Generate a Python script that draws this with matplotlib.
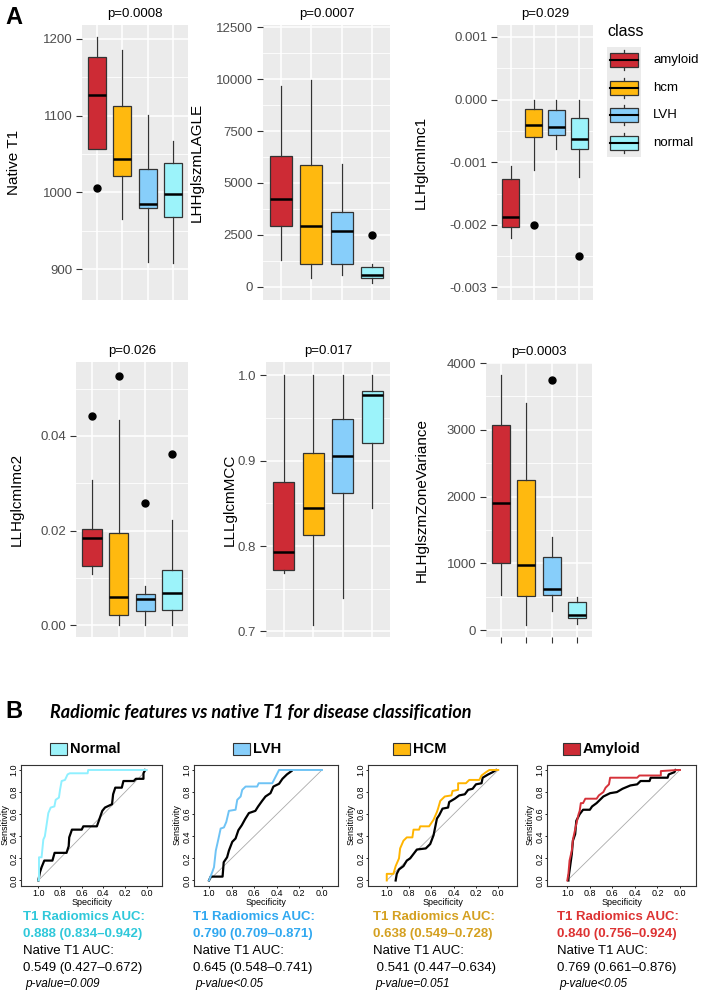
import matplotlib
matplotlib.use("Agg")
import matplotlib.pyplot as plt
from matplotlib.patches import Rectangle
import numpy as np

plt.rcParams['font.family'] = ['Liberation Sans', 'DejaVu Sans']

W, H = 704, 992
fig = plt.figure(figsize=(W / 100, H / 100), dpi=100)

def px_axes(x0, y0, x1, y1, **kw):
    return fig.add_axes([x0 / W, 1 - y1 / H, (x1 - x0) / W, (y1 - y0) / H], **kw)

# ---------------- data: panel A ----------------
classes = ["amyloid", "hcm", "LVH", "normal"]
class_colors = ["#CD2B35", "#FFB90F", "#87CEFA", "#9CF3FA"]

native_t1_low = [1057, 966, 910, 908]
native_t1_q1 = [1057, 1021, 980, 968]
native_t1_med = [1127, 1044, 985, 998]
native_t1_q3 = [1176, 1112, 1031, 1038]
native_t1_high = [1203, 1185, 1101, 1067]
native_t1_out = [[1006], [], [], []]

lagle_low = [1262, 434, 547, 193]
lagle_q1 = [2934, 1085, 1085, 434]
lagle_med = [4228, 2934, 2661, 547]
lagle_q3 = [6286, 5884, 3585, 965]
lagle_high = [9680, 9970, 5916, 1085]
lagle_out = [[], [], [], [2500]]

imc1_low = [-0.00221, -0.00113, -0.00079, -0.00124]
imc1_q1 = [-0.00204, -0.00059, -0.00057, -0.00079]
imc1_med = [-0.00187, -0.00041, -0.00044, -0.00063]
imc1_q3 = [-0.00127, -0.000154, -0.00017, -0.00029]
imc1_high = [-0.00106, 0.0, 0.0, 0.0]
imc1_out = [[], [-0.0020], [], [-0.00249]]

imc2_low = [0.0108, 0.0, 0.0, 0.0]
imc2_q1 = [0.0126, 0.0022, 0.0029, 0.0032]
imc2_med = [0.0185, 0.0060, 0.0055, 0.0067]
imc2_q3 = [0.0203, 0.0194, 0.0065, 0.0116]
imc2_high = [0.0306, 0.0434, 0.0083, 0.0222]
imc2_out = [[0.0441], [0.0526], [0.0258], [0.0361]]

mcc_low = [0.768, 0.708, 0.739, 0.844]
mcc_q1 = [0.772, 0.8125, 0.862, 0.921]
mcc_med = [0.793, 0.845, 0.905, 0.977]
mcc_q3 = [0.875, 0.909, 0.949, 0.982]
mcc_high = [1.0, 1.0, 1.0, 1.0]
mcc_out = [[], [], [], []]

zv_low = [532, 85, 294, 100]
zv_q1 = [1005, 512, 522, 184]
zv_med = [1910, 975, 617, 224]
zv_q3 = [3070, 2254, 1095, 418]
zv_high = [3816, 3408, 1403, 498]
zv_out = [[], [], [3751], []]

# ---------------- data: panel B (ROC) ----------------
normal_rad_spec = [1.0, 0.994, 0.994, 0.97, 0.954, 0.94, 0.923, 0.908, 0.886, 0.852, 0.84, 0.81, 0.80, 0.785, 0.754, 0.73, 0.71, 0.545, 0.54, 0.0]
normal_rad_sens = [0.0, 0.0, 0.21, 0.21, 0.37, 0.40, 0.51, 0.61, 0.66, 0.67, 0.73, 0.75, 0.82, 0.90, 0.91, 0.96, 0.97, 0.97, 1.0, 1.0]
normal_t1_spec = [1.0, 0.985, 0.97, 0.945, 0.87, 0.85, 0.74, 0.72, 0.715, 0.69, 0.60, 0.585, 0.46, 0.41, 0.385, 0.32, 0.31, 0.29, 0.23, 0.215, 0.12, 0.10, 0.03, 0.03, 0.015]
normal_t1_sens = [0.0, 0.075, 0.12, 0.18, 0.18, 0.25, 0.25, 0.31, 0.39, 0.46, 0.46, 0.49, 0.49, 0.63, 0.66, 0.69, 0.78, 0.84, 0.84, 0.90, 0.90, 0.92, 0.92, 0.97, 1.0]

lvh_rad_spec = [1.0, 0.97, 0.956, 0.94, 0.918, 0.897, 0.868, 0.847, 0.824, 0.765, 0.75, 0.72, 0.706, 0.676, 0.574, 0.56, 0.44, 0.43, 0.40, 0.38, 0.0]
lvh_rad_sens = [0.0, 0.08, 0.12, 0.27, 0.37, 0.47, 0.48, 0.53, 0.63, 0.64, 0.73, 0.76, 0.82, 0.85, 0.85, 0.88, 0.88, 0.90, 0.96, 1.0, 1.0]
lvh_t1_spec = [1.0, 0.985, 0.88, 0.87, 0.84, 0.824, 0.794, 0.765, 0.74, 0.71, 0.68, 0.647, 0.59, 0.565, 0.53, 0.50, 0.456, 0.43, 0.38, 0.35, 0.31, 0.27]
lvh_t1_sens = [0.0, 0.035, 0.035, 0.165, 0.21, 0.27, 0.35, 0.38, 0.455, 0.50, 0.556, 0.61, 0.63, 0.67, 0.72, 0.76, 0.79, 0.85, 0.875, 0.92, 0.96, 0.99]

hcm_rad_spec = [1.0, 1.0, 0.94, 0.92, 0.89, 0.88, 0.85, 0.82, 0.77, 0.76, 0.71, 0.70, 0.62, 0.58, 0.55, 0.54, 0.52, 0.48, 0.42, 0.41, 0.36, 0.36, 0.29, 0.26, 0.17, 0.15, 0.11, 0.08, 0.0]
hcm_rad_sens = [0.0, 0.06, 0.06, 0.13, 0.20, 0.29, 0.36, 0.39, 0.39, 0.46, 0.46, 0.49, 0.49, 0.55, 0.62, 0.65, 0.72, 0.76, 0.77, 0.81, 0.82, 0.88, 0.88, 0.91, 0.91, 0.95, 0.98, 1.0, 1.0]
hcm_t1_spec = [0.92, 0.91, 0.89, 0.85, 0.82, 0.79, 0.76, 0.73, 0.65, 0.61, 0.58, 0.55, 0.53, 0.50, 0.45, 0.44, 0.39, 0.35, 0.30, 0.27, 0.23, 0.20, 0.15, 0.14, 0.09, 0.05, 0.02]
hcm_t1_sens = [0.0, 0.06, 0.10, 0.13, 0.18, 0.20, 0.24, 0.28, 0.29, 0.33, 0.41, 0.56, 0.59, 0.65, 0.66, 0.71, 0.74, 0.77, 0.78, 0.82, 0.83, 0.87, 0.88, 0.93, 0.96, 0.98, 1.0]

amy_rad_spec = [1.0, 0.99, 0.98, 0.96, 0.95, 0.92, 0.90, 0.89, 0.88, 0.86, 0.84, 0.74, 0.72, 0.68, 0.66, 0.63, 0.62, 0.38, 0.36, 0.17, 0.17, 0.02, 0.0]
amy_rad_sens = [0.0, 0.06, 0.18, 0.27, 0.37, 0.51, 0.60, 0.63, 0.70, 0.70, 0.74, 0.74, 0.77, 0.80, 0.84, 0.87, 0.93, 0.93, 0.95, 0.95, 0.99, 1.0, 1.0]
amy_t1_spec = [0.99, 0.99, 0.98, 0.96, 0.95, 0.93, 0.92, 0.89, 0.86, 0.80, 0.78, 0.74, 0.71, 0.68, 0.62, 0.56, 0.51, 0.44, 0.38, 0.35, 0.27, 0.26, 0.11, 0.10, 0.05, 0.04]
amy_t1_sens = [0.0, 0.02, 0.09, 0.24, 0.36, 0.42, 0.54, 0.60, 0.64, 0.64, 0.67, 0.70, 0.73, 0.76, 0.79, 0.80, 0.83, 0.86, 0.87, 0.90, 0.90, 0.93, 0.93, 0.96, 0.98, 1.0]

roc_titles = ["Normal", "LVH", "HCM", "Amyloid"]
roc_colors = ["#8FF0FF", "#6EC3F5", "#FFB400", "#D6323A"]
roc_key_colors = ["#9CF3FA", "#87CEFA", "#FFB90F", "#CD2B35"]
roc_text_colors = ["#2FC8DA", "#30A8F0", "#D4A020", "#DD3333"]
rad_auc = ["0.888 (0.834\u20130.942)", "0.790 (0.709\u20130.871)", "0.638 (0.549\u20130.728)", "0.840 (0.756\u20130.924)"]
t1_auc = ["0.549 (0.427\u20130.672)", "0.645 (0.548\u20130.741)", " 0.541 (0.447\u20130.634)", "0.769 (0.661\u20130.876)"]
p_values = ["p-value=0.009", "p-value<0.05", "p-value=0.051", "p-value<0.05"]

# ---------------- panel A drawing ----------------
GRAY_TXT = "#4D4D4D"

def box_panel(rect, low, q1, med, q3, high, outs, ylim, yticks, yticklabels, minor, ylabel, title, label_x, xticks=False):
    ax = px_axes(*rect)
    ax.set_facecolor("#EBEBEB")
    for y in minor:
        ax.axhline(y, color="white", lw=0.6, zorder=0)
    for y in yticks:
        ax.axhline(y, color="white", lw=1.1, zorder=0)
    for x in range(1, 5):
        ax.axvline(x, color="white", lw=1.1, zorder=0)
    stats = []
    for i in range(4):
        stats.append(dict(whislo=low[i], q1=q1[i], med=med[i], q3=q3[i], whishi=high[i], fliers=outs[i]))
    bp = ax.bxp(stats, positions=[1, 2, 3, 4], widths=0.72, patch_artist=True, showcaps=False,
                boxprops=dict(edgecolor="#333333", linewidth=0.9),
                medianprops=dict(color="black", linewidth=1.8),
                whiskerprops=dict(color="#333333", linewidth=0.9),
                flierprops=dict(marker="o", markerfacecolor="black", markeredgecolor="black", markersize=5),
                zorder=2)
    for patch, c in zip(bp["boxes"], class_colors):
        patch.set_facecolor(c)
    ax.set_xlim(0.4, 4.6)
    ax.set_ylim(*ylim)
    ax.set_yticks(yticks)
    ax.set_yticklabels(yticklabels, color=GRAY_TXT, fontsize=9.5)
    ax.tick_params(axis="y", length=4, color="#333333", width=0.8, pad=3)
    if xticks:
        ax.set_xticks([1, 2, 3, 4])
        ax.set_xticklabels([])
        ax.tick_params(axis="x", length=4, color="#333333", width=0.8)
    else:
        ax.set_xticks([])
    for s in ax.spines.values():
        s.set_visible(False)
    ax.set_title(title, fontsize=9.5, pad=6)
    cy = (rect[1] + rect[3]) / 2
    fig.text(label_x / W, 1 - cy / H, ylabel, rotation=90, ha="center", va="center", fontsize=11)
    return ax

box_panel((82, 25, 188, 300), native_t1_low, native_t1_q1, native_t1_med, native_t1_q3, native_t1_high, native_t1_out,
          (860, 1218), [900, 1000, 1100, 1200], ["900", "1000", "1100", "1200"], [950, 1050, 1150],
          "Native T1", "p=0.0008", 14)
box_panel((263, 25, 390, 300), lagle_low, lagle_q1, lagle_med, lagle_q3, lagle_high, lagle_out,
          (-643, 12612), [0, 2500, 5000, 7500, 10000, 12500], ["0", "2500", "5000", "7500", "10000", "12500"],
          [1250, 3750, 6250, 8750, 11250], "LHHglszmLAGLE", "p=0.0007", 197)
box_panel((497, 25, 593, 300), imc1_low, imc1_q1, imc1_med, imc1_q3, imc1_high, imc1_out,
          (-0.0032, 0.00119), [-0.003, -0.002, -0.001, 0.0, 0.001], ["-0.003", "-0.002", "-0.001", "0.000", "0.001"],
          [-0.0025, -0.0015, -0.0005, 0.0005], "LLHglcmImc1", "p=0.029", 421)
box_panel((76, 362, 188, 637), imc2_low, imc2_q1, imc2_med, imc2_q3, imc2_high, imc2_out,
          (-0.0025, 0.0556), [0.0, 0.02, 0.04], ["0.00", "0.02", "0.04"], [0.01, 0.03, 0.05],
          "LLHglcmImc2", "p=0.026", 17)
box_panel((266, 362, 390, 637), mcc_low, mcc_q1, mcc_med, mcc_q3, mcc_high, mcc_out,
          (0.6934, 1.0156), [0.7, 0.8, 0.9, 1.0], ["0.7", "0.8", "0.9", "1.0"], [0.75, 0.85, 0.95],
          "LLLglcmMCC", "p=0.017", 230)
box_panel((486, 363, 592, 637), zv_low, zv_q1, zv_med, zv_q3, zv_high, zv_out,
          (-100, 4000), [0, 1000, 2000, 3000, 4000], ["0", "1000", "2000", "3000", "4000"], [500, 1500, 2500, 3500],
          "HLHglszmZoneVariance", "p=0.0003", 422, xticks=True)

# legend for panel A
fig.text(607 / W, 1 - 32 / H, "class", fontsize=11.5, ha="left", va="center")
lax = px_axes(607, 47, 641, 157)
lax.set_facecolor("#EBEBEB")
lax.set_xlim(0, 1)
lax.set_ylim(157, 47)
lax.set_xticks([])
lax.set_yticks([])
for s in lax.spines.values():
    s.set_visible(False)
for i, (c, name) in enumerate(zip(class_colors, classes)):
    yc = 60 + i * 27.7
    lax.plot([0.5, 0.5], [yc - 10, yc + 10], color="#333333", lw=0.9, zorder=1)
    lax.add_patch(Rectangle((0.08, yc - 7), 0.84, 14, facecolor=c, edgecolor="#333333", lw=0.9, zorder=2))
    lax.plot([0.08, 0.92], [yc, yc], color="black", lw=1.5, zorder=3)
    fig.text(653 / W, 1 - yc / H, name, fontsize=9.5, ha="left", va="center")

fig.text(5 / W, 1 - 18 / H, "A", fontsize=17, fontweight="bold", ha="left", va="center")

# ---------------- panel B drawing ----------------
fig.text(5 / W, 1 - 712 / H, "B", fontsize=17, fontweight="bold", ha="left", va="center")
fig.text(50 / W, 1 - 712 / H, "Radiomic features vs native T1 for disease classification",
         fontsize=13, fontweight="bold", style="italic", ha="left", va="center", family=["Lato", "DejaVu Sans"])

roc_rects = [(21, 765, 162, 886), (194, 765, 338, 886), (368, 765, 517, 886), (547, 765, 696, 886)]
roc_xlims = [(1.16, -0.141), (1.133, -0.142), (1.168, -0.168), (1.18, -0.142)]
sens_label_x = [5, 177, 351, 530]
legend_x = [50, 233, 393, 563]
text_x = [23, 193, 373, 557]
rad_curves = [(normal_rad_spec, normal_rad_sens), (lvh_rad_spec, lvh_rad_sens),
              (hcm_rad_spec, hcm_rad_sens), (amy_rad_spec, amy_rad_sens)]
t1_curves = [(normal_t1_spec, normal_t1_sens), (lvh_t1_spec, lvh_t1_sens),
             (hcm_t1_spec, hcm_t1_sens), (amy_t1_spec, amy_t1_sens)]

for i in range(4):
    ax = px_axes(*roc_rects[i])
    ax.plot([1, 0], [0, 1], color="#AAAAAA", lw=0.6, zorder=1)
    ax.plot(t1_curves[i][0], t1_curves[i][1], color="black", lw=1.6, zorder=2)
    ax.plot(rad_curves[i][0], rad_curves[i][1], color=roc_colors[i], lw=1.4, zorder=3)
    ax.set_xlim(*roc_xlims[i])
    ax.set_ylim(-0.05, 1.045)
    ticks = [0.0, 0.2, 0.4, 0.6, 0.8, 1.0]
    ax.set_xticks(ticks)
    ax.set_xticklabels(["%.1f" % t for t in ticks], fontsize=6.5)
    ax.set_yticks(ticks)
    ax.set_yticklabels(["%.1f" % t for t in ticks], fontsize=6.5, rotation=90, va="center")
    ax.tick_params(length=1.5, width=0.6, pad=0.5)
    for s in ax.spines.values():
        s.set_linewidth(0.8)
        s.set_color("#333333")
    ax.set_xlabel("Specificity", fontsize=6.5, labelpad=0)
    fig.text(sens_label_x[i] / W, 1 - 825 / H, "Sensitivity", fontsize=6.5, rotation=90, ha="center", va="center")
    # legend square + title
    fig.patches.append(Rectangle((legend_x[i] / W, 1 - 755 / H), 17 / W, 12 / H, transform=fig.transFigure,
                                 facecolor=roc_key_colors[i], edgecolor="#333333", lw=0.8))
    fig.text((legend_x[i] + 20) / W, 1 - 749 / H, roc_titles[i], fontsize=10.5, fontweight="bold", ha="left", va="center")
    tx = text_x[i] / W
    fig.text(tx, 1 - 917 / H, "T1 Radiomics AUC:", fontsize=9.5, fontweight="bold", color=roc_text_colors[i], va="center")
    fig.text(tx, 1 - 934 / H, rad_auc[i], fontsize=9.5, fontweight="bold", color=roc_text_colors[i], va="center")
    fig.text(tx, 1 - 951 / H, "Native T1 AUC:", fontsize=9.5, va="center")
    fig.text(tx, 1 - 968 / H, t1_auc[i], fontsize=9.5, va="center")
    fig.text(tx + 2 / W, 1 - 984 / H, p_values[i], fontsize=8.5, style="italic", va="center")

fig.savefig("out.png", dpi=100)
